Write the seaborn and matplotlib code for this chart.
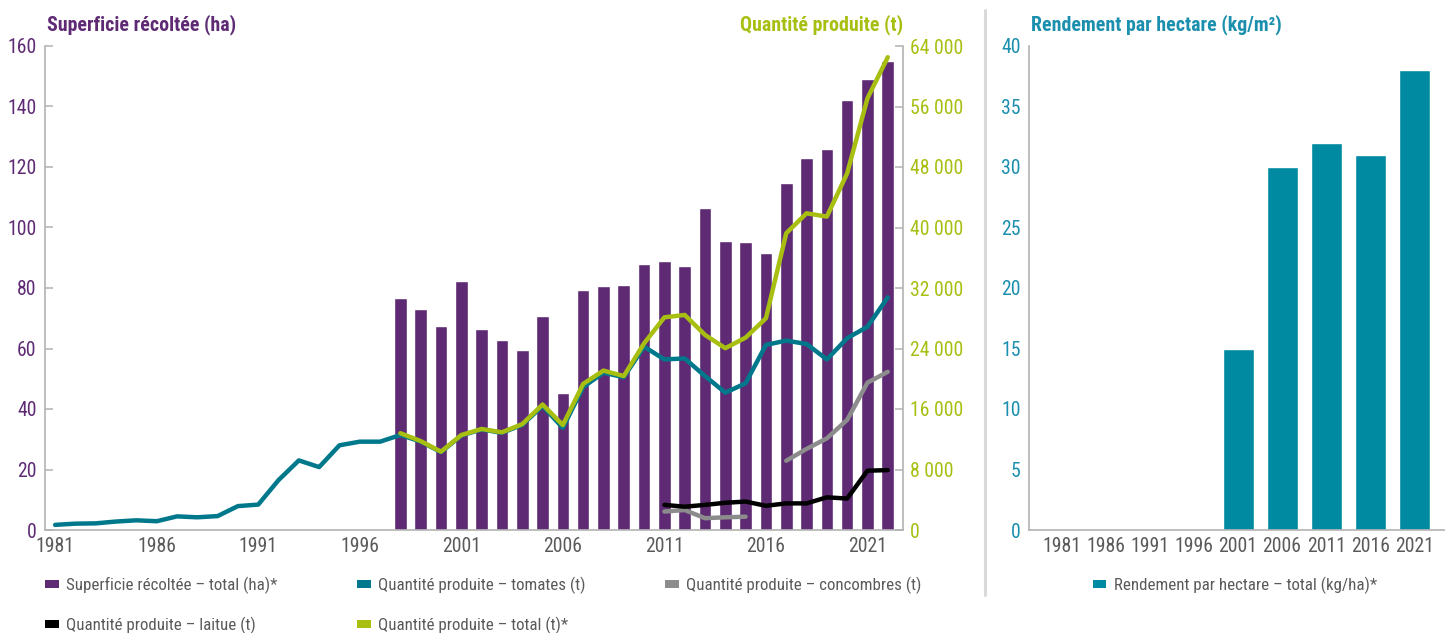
import numpy as np
import pandas as pd
import matplotlib
matplotlib.use("Agg")
import matplotlib.pyplot as plt
import matplotlib.font_manager as fm
from matplotlib.patches import Patch
from matplotlib.lines import Line2D
from matplotlib.ticker import FuncFormatter
import seaborn as sns

# ---- data ----
years = list(range(1981, 2023))

area_years = list(range(1998, 2023))
area_ha = [76.7, 73.0, 67.4, 82.3, 66.4, 62.8, 59.5, 70.7, 45.3, 79.3,
           80.7, 81.0, 87.9, 88.9, 87.3, 106.4, 95.5, 95.2, 91.6, 114.7,
           123.0, 126.0, 142.1, 149.0, 155.0]

tomatoes_t = [680, 840, 880, 1120, 1280, 1160, 1800, 1680, 1840, 3160,
              3360, 6600, 9200, 8320, 11200, 11680, 11680, 12560, 11700, 10300,
              12500, 13300, 12850, 13900, 16400, 13500, 18900, 20800, 20200, 24240,
              22560, 22680, 20360, 18160, 19400, 24480, 25040, 24600, 22560, 25360,
              26880, 30760]

total_years = list(range(1998, 2023))
total_t = [12800, 11760, 10360, 12560, 13360, 12920, 14000, 16600, 13880, 19320,
           21080, 20360, 24680, 28120, 28440, 25800, 24040, 25440, 28000, 39240,
           41880, 41440, 47160, 57080, 62520]

late_years = list(range(2011, 2023))
cucumbers_t = [2440, 2640, 1560, 1680, 1760, np.nan, 9160, 10720, 12120, 14560,
               19480, 20920]
lettuce_t = [3320, 3080, 3320, 3600, 3760, 3200, 3520, 3520, 4320, 4160,
             7840, 7920]

yield_years = ["1981", "1986", "1991", "1996", "2001", "2006", "2011", "2016", "2021"]
yield_kg_m2 = [0, 0, 0, 0, 15, 30, 32, 31, 38]

# ---- colours ----
purple = "#5e2a74"
teal = "#00788c"
teal_bar = "#008aa1"
lime = "#a8bf12"
grey_line = "#8c8c8c"
axis_grey = "#b3b3b3"
text_grey = "#5a5a5a"
yield_label = "#1b8fae"

sns.set_style("white")

names = {f.name for f in fm.fontManager.ttflist}
if "Liberation Sans Narrow" in names:
    main_font, k = "Liberation Sans Narrow", 1.0
elif "Roboto Condensed" in names:
    main_font, k = "Roboto Condensed", 0.92
else:
    main_font, k = "Roboto", 0.8
plt.rcParams["font.family"] = [main_font, "DejaVu Sans"]

tick_fs = 15.5 * k
legend_fs = 13.2 * k
title_fs = 15.6 * k

W, H = 1445, 633
fig = plt.figure(figsize=(W / 100, H / 100), dpi=100)

def fx(px):
    return px / W

def fy(py):
    return 1 - py / H

# ---- left chart ----
ax = fig.add_axes([fx(45), fy(530), fx(903) - fx(45), fy(46) - fy(530)])

sns.barplot(x=area_years, y=area_ha, native_scale=True, width=0.62,
            color=purple, saturation=1, ax=ax)

ax.set_xlim(1980.5, 2022.75)
ax.set_ylim(0, 160)
ax.set_xticks(range(1981, 2022, 5))
ax.set_xticklabels([str(y) for y in range(1981, 2022, 5)])
ax.set_yticks(range(0, 161, 20))
ax.set_xlabel("")
ax.set_ylabel("")
for s in ["top", "right"]:
    ax.spines[s].set_visible(False)
for s in ["left", "bottom"]:
    ax.spines[s].set_color(axis_grey)
    ax.spines[s].set_linewidth(1.2)
ax.tick_params(axis="y", direction="in", length=6, width=1.1, color=axis_grey,
               labelcolor=purple, labelsize=tick_fs, pad=6)
ax.tick_params(axis="x", length=0, labelcolor=text_grey, labelsize=tick_fs, pad=5)

ax2 = ax.twinx()
tom = pd.DataFrame({"year": years, "t": tomatoes_t})
cuc = pd.DataFrame({"year": late_years, "t": cucumbers_t})
cuc["seg"] = (cuc["year"] > 2016).astype(int)
cuc = cuc.dropna()
let = pd.DataFrame({"year": late_years, "t": lettuce_t})
tot = pd.DataFrame({"year": total_years, "t": total_t})

sns.lineplot(data=tom, x="year", y="t", color=teal, lw=3.2, ax=ax2)
sns.lineplot(data=cuc, x="year", y="t", units="seg", estimator=None,
             color=grey_line, lw=3.2, ax=ax2)
sns.lineplot(data=let, x="year", y="t", color="black", lw=3.2, ax=ax2)
sns.lineplot(data=tot, x="year", y="t", color=lime, lw=3.2, ax=ax2)

ax2.set_ylim(0, 64000)
ax2.set_xlim(1980.5, 2022.75)
ax2.set_yticks(range(0, 64001, 8000))
ax2.yaxis.set_major_formatter(FuncFormatter(lambda v, p: f"{int(v):,}".replace(",", " ")))
ax2.set_xlabel("")
ax2.set_ylabel("")
for s in ["top", "left", "bottom"]:
    ax2.spines[s].set_visible(False)
ax2.spines["right"].set_color(axis_grey)
ax2.spines["right"].set_linewidth(1.2)
ax2.tick_params(axis="y", direction="in", length=6, width=1.1, color=axis_grey,
                labelcolor=lime, labelsize=tick_fs, pad=5)

fig.text(fx(47), fy(25), "Superficie récoltée (ha)", color=purple,
         fontsize=title_fs, fontweight="bold", ha="left", va="center")
fig.text(fx(903), fy(25), "Quantité produite (t)", color=lime,
         fontsize=title_fs, fontweight="bold", ha="right", va="center")

# legends for the left chart, one per column
cols = [
    (45, [("Superficie récoltée – total (ha)*", purple),
          ("Quantité produite – laitue (t)", "black")]),
    (357, [("Quantité produite – tomates (t)", teal),
           ("Quantité produite – total (t)*", lime)]),
    (665, [("Quantité produite – concombres (t)", grey_line)]),
]
for x0, items in cols:
    handles = [Patch(facecolor=c, edgecolor="none", label=lab) for lab, c in items]
    fig.legend(handles=handles, loc="upper left", bbox_to_anchor=(fx(x0 - 3), fy(573)),
               frameon=False, fontsize=legend_fs, labelcolor=text_grey,
               handlelength=0.8, handleheight=0.35, handletextpad=0.45,
               labelspacing=1.35, borderaxespad=0, borderpad=0.2)

# ---- divider ----
fig.add_artist(Line2D([fx(985), fx(985)], [fy(10), fy(595)], color="#d9d9d9",
                      lw=2.2, transform=fig.transFigure))

# ---- right chart ----
ax3 = fig.add_axes([fx(1029), fy(530), 1 - fx(1029), fy(46) - fy(530)])
sns.barplot(x=yield_years, y=yield_kg_m2, color=teal_bar, saturation=1,
            width=0.7, ax=ax3)
ax3.set_xlim(-0.75, 8.7)
ax3.set_ylim(0, 40)
ax3.set_yticks(range(0, 41, 5))
ax3.set_xlabel("")
ax3.set_ylabel("")
for s in ["top", "right"]:
    ax3.spines[s].set_visible(False)
for s in ["left", "bottom"]:
    ax3.spines[s].set_color(axis_grey)
    ax3.spines[s].set_linewidth(1.2)
ax3.tick_params(axis="y", direction="in", length=6, width=1.1, color=axis_grey,
                labelcolor=yield_label, labelsize=tick_fs, pad=6)
ax3.tick_params(axis="x", length=0, labelcolor=text_grey, labelsize=tick_fs, pad=5)

fig.text(fx(1031), fy(25), "Rendement par hectare (kg/m²)", color=yield_label,
         fontsize=title_fs, fontweight="bold", ha="left", va="center")

fig.legend(handles=[Patch(facecolor=teal_bar, edgecolor="none",
                          label="Rendement par hectare – total (kg/ha)*")],
           loc="center", bbox_to_anchor=(fx(1235), fy(585)), frameon=False,
           fontsize=legend_fs, labelcolor=text_grey, handlelength=0.8,
           handleheight=0.35, handletextpad=0.45, borderaxespad=0)

fig.savefig("out.png", dpi=100)
